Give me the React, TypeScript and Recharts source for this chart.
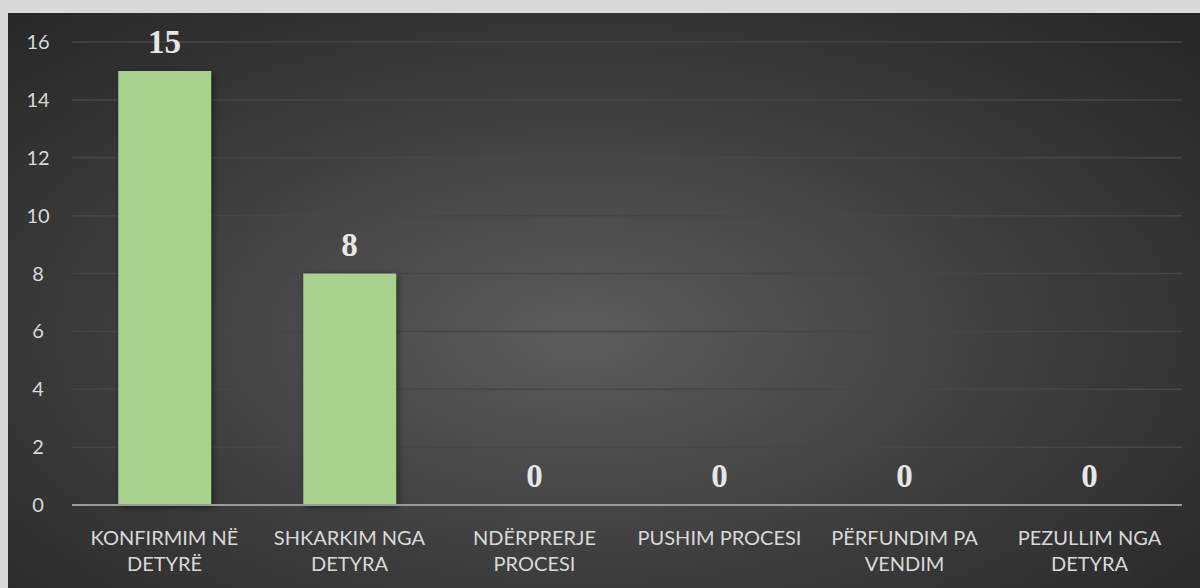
import React from "react";
import { ComposedChart, Bar, Line, XAxis, YAxis, CartesianGrid, LabelList } from "recharts";

// line breaks as they appear under the axis
const categories = [
  "KONFIRMIM NË\nDETYRË",
  "SHKARKIM NGA\nDETYRA",
  "NDËRPRERJE\nPROCESI",
  "PUSHIM PROCESI",
  "PËRFUNDIM PA\nVENDIM",
  "PEZULLIM NGA\nDETYRA",
];
const counts = [15, 8, 0, 0, 0, 0];
const yTicks = [0, 2, 4, 6, 8, 10, 12, 14, 16];

const data = categories.map((name, i) => ({ name, value: counts[i] }));

const axisFont = "Lato, 'Open Sans', sans-serif";

function CategoryTick(props: any) {
  const { x, y, payload } = props;
  const lines = String(payload.value).split("\n");
  return (
    <text x={x} y={y + 32} textAnchor="middle" fill="#d9d9d9" fontFamily={axisFont} fontSize={20}>
      {lines.map((l, i) => (
        <tspan key={i} x={x} dy={i === 0 ? 0 : 26}>{l}</tspan>
      ))}
    </text>
  );
}

function ValueTick(props: any) {
  const { x, y, payload } = props;
  return (
    <text x={x - 26} y={y} dy={7} textAnchor="middle" fill="#d9d9d9" fontFamily={axisFont} fontSize={20}>
      {payload.value}
    </text>
  );
}

export default function App() {
  return (
    <div style={{ position: "fixed", left: 0, top: 0, width: 1200, height: 588, background: "#d9d9d9" }}>
      <div
        style={{
          position: "absolute",
          left: 8,
          top: 13,
          width: 1192,
          height: 575,
          background: "radial-gradient(ellipse 72% 78% at 48% 56%, #5c5c5c 0%, #3c3c3c 55%, #262626 100%)",
        }}
      >
        <ComposedChart
          width={1192}
          height={575}
          data={data}
          margin={{ top: 29, right: 18, left: 0, bottom: 0 }}
          barCategoryGap="25%"
        >
          <CartesianGrid vertical={false} stroke="#464646" strokeWidth={1.5} />
          <XAxis
            dataKey="name"
            interval={0}
            height={83}
            tickLine={false}
            axisLine={{ stroke: "#9a9a9a", strokeWidth: 2 }}
            tick={<CategoryTick />}
          />
          <YAxis
            width={64}
            domain={[0, 16]}
            ticks={yTicks}
            axisLine={false}
            tickLine={false}
            tick={<ValueTick />}
          />
          <Bar dataKey="value" fill="#a9d18e" isAnimationActive={false}
            style={{ filter: "drop-shadow(2px 2px 3px rgba(0,0,0,0.45))" }} />
          <Line
            dataKey="value"
            stroke="none"
            dot={false}
            activeDot={false}
            isAnimationActive={false}
          >
            <LabelList
              dataKey="value"
              position="top"
              offset={18}
              fill="#e6e6e6"
              style={{ fontFamily: "'Liberation Serif', 'Times New Roman', serif", fontWeight: "bold", fontSize: 33 }}
            />
          </Line>
        </ComposedChart>
      </div>
    </div>
  );
}
